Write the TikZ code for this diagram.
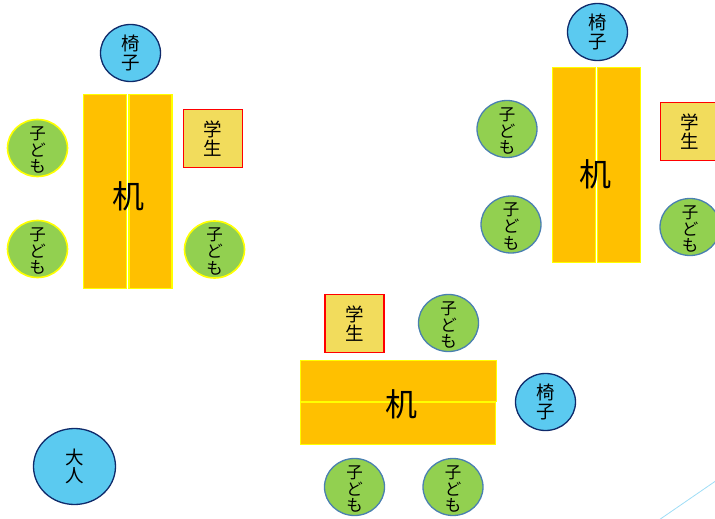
\documentclass[tikz,border=0pt]{standalone}
\usepackage{fontspec}
\setmainfont{Noto Sans CJK JP}
\usepackage{pgf,tikz}
\usetikzlibrary{shapes.geometric}
\definecolor{deskorange}{HTML}{FFC000}
\definecolor{deskedge}{HTML}{FFFF00}
\definecolor{kidgreen}{HTML}{92D050}
\definecolor{kidedge}{HTML}{4A80B0}
\definecolor{chairblue}{HTML}{5BCAF0}
\definecolor{chairedge}{HTML}{0F2A6A}
\definecolor{studfill}{HTML}{F2DC5C}
\definecolor{lineblue}{HTML}{9FDDF6}

\begin{document}
\begin{tikzpicture}
  [x=1pt,y=-1pt,every node/.style={inner sep=0pt},
   half/.style={rectangle,draw=deskedge,fill=deskorange,line width=1.4pt},
   desklabel/.style={font=\fontsize{32}{34}\selectfont},
   kid/.style={ellipse,draw=kidedge,fill=kidgreen,line width=1.3pt,minimum width=60,minimum height=57},
   kidtext/.style={align=center,yshift=-2pt,font=\fontsize{16.5}{16.6}\selectfont},
   chair/.style={ellipse,draw=chairedge,fill=chairblue,line width=1.3pt,minimum width=60,minimum height=57,
     align=center,font=\fontsize{18.5}{18.6}\selectfont},
   student/.style={rectangle,draw=red,fill=studfill,line width=1.6pt,minimum width=59,minimum height=58,
     align=center,font=\fontsize{18.5}{18.6}\selectfont}]

  \useasboundingbox (0,0) rectangle (715,519);

  %%%%%%%%%%%%%%%%%%%%%% TABLE 1 %%%%%%%%%%%%%%%%%%%%%%

  \node[half,minimum width=43,minimum height=194] (desk1_l) at (105,191.5) {};
  \node[half,minimum width=43,minimum height=194] (desk1_r) at (150.5,191.5) {};
  \node[desklabel] (desk1) at (128,196) {机};

  \node[chair] (chair1) at (130.5,53) {椅\\子};
  \node[student] (stud1) at (213,138.5) {学\\生};

  \node[kid,draw=deskedge,line width=1.6pt,label={[kidtext]center:子\\ど\\も}] (kid1_a) at (37.5,148) {};
  \node[kid,draw=deskedge,line width=1.6pt,label={[kidtext]center:子\\ど\\も}] (kid1_b) at (37.5,249) {};
  \node[kid,draw=deskedge,line width=1.6pt,label={[kidtext]center:子\\ど\\も}] (kid1_c) at (214.5,249.5) {};

  %%%%%%%%%%%%%%%%%%%%%% TABLE 2 %%%%%%%%%%%%%%%%%%%%%%

  \node[half,minimum width=43,minimum height=195] (desk2_l) at (574,165) {};
  \node[half,minimum width=43,minimum height=195] (desk2_r) at (619,165) {};
  \node[desklabel] (desk2) at (595,174) {机};

  \node[chair] (chair2) at (597.5,32) {椅\\子};
  \node[student] (stud2) at (690,131.5) {学\\生};

  \node[kid,label={[kidtext]center:子\\ど\\も}] (kid2_a) at (507,129) {};
  \node[kid,label={[kidtext]center:子\\ど\\も}] (kid2_b) at (511,224.5) {};
  \node[kid,label={[kidtext]center:子\\ど\\も}] (kid2_c) at (690,227) {};

  %%%%%%%%%%%%%%%%%%%%%% TABLE 3 %%%%%%%%%%%%%%%%%%%%%%

  \node[half,minimum width=196,minimum height=41] (desk3_t) at (398.5,381) {};
  \node[half,minimum width=195,minimum height=42] (desk3_b) at (398,423.5) {};
  \node[desklabel] (desk3) at (401,404) {机};

  \node[chair] (chair3) at (545.5,402) {椅\\子};
  \node[student] (stud3) at (354.5,323.5) {学\\生};

  \node[kid,label={[kidtext]center:子\\ど\\も}] (kid3_a) at (448.5,323) {};
  \node[kid,label={[kidtext]center:子\\ど\\も}] (kid3_b) at (354.5,487) {};
  \node[kid,label={[kidtext]center:子\\ど\\も}] (kid3_c) at (453,487) {};

  %%%%%%%%%%%%%%%%%%%%%% ADULT %%%%%%%%%%%%%%%%%%%%%%

  \node[chair,minimum width=82,minimum height=76] (adult) at (74.5,466.5) {大\\人};

  \coordinate (edge_a) at (656,522);
  \coordinate (edge_b) at (720,478);
  \draw[lineblue,line width=0.8pt] (edge_a) -- (edge_b);

\end{tikzpicture}
\end{document}
